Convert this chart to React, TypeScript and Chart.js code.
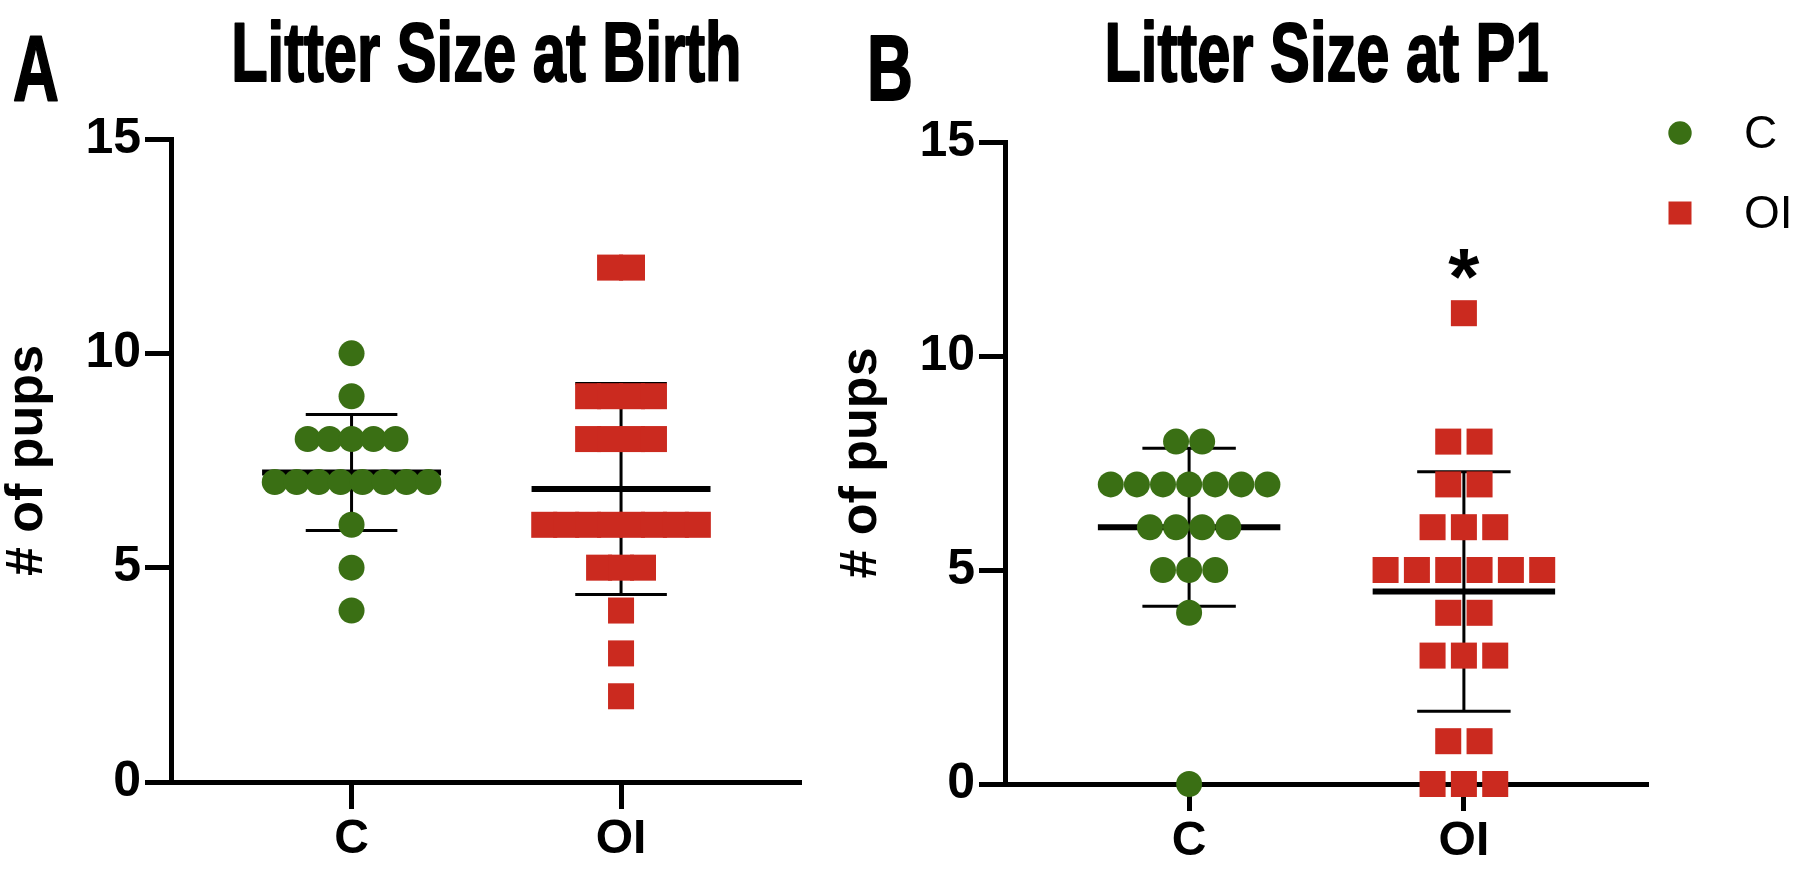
import React, { useEffect, useRef } from 'react';
import { Chart, registerables } from 'chart.js';

Chart.register(...registerables);

// ---------------- data ----------------
const CATEGORIES = ['C', 'OI'];
const BIRTH_C = [10, 9, 8, 8, 8, 8, 8, 7, 7, 7, 7, 7, 7, 7, 7, 6, 5, 4];
const BIRTH_OI = [12, 12, 9, 9, 9, 9, 8, 8, 8, 8, 6, 6, 6, 6, 6, 6, 6, 6, 5, 5, 5, 4, 3, 2];
const P1_C = [8, 8, 7, 7, 7, 7, 7, 7, 7, 6, 6, 6, 6, 5, 5, 5, 4, 0];
const P1_OI = [11, 8, 8, 7, 7, 6, 6, 6, 5, 5, 5, 5, 5, 5, 4, 4, 3, 3, 3, 1, 1, 0, 0, 0];
const Y_TICKS = [0, 5, 10, 15];
const TITLES = ['Litter Size at Birth', 'Litter Size at P1'];
const PANEL_LETTERS = ['A', 'B'];
const Y_LABEL = '# of pups';
const SIGNIF_MARK = '*';
const SIGNIF_CATEGORY = 1;
const SIGNIF_Y = 12.27;

// ---------------- style ----------------
const GREEN = '#3A6F14';
const RED = '#CB2A1F';
const FONT = "'Liberation Sans', Arial, Helvetica, sans-serif";
const ROW_SPAN = 0.57; // centre-to-centre width of widest row (x units)
const MEAN_HALF = 0.332;
const CAP_HALF = 0.17;

function swarm(values: number[], cat: number) {
  const counts = new Map<number, number>();
  values.forEach((v) => counts.set(v, (counts.get(v) || 0) + 1));
  const maxCount = Math.max(...Array.from(counts.values()));
  const step = maxCount > 1 ? ROW_SPAN / (maxCount - 1) : 0;
  const seen = new Map<number, number>();
  return values.map((v) => {
    const n = counts.get(v)!;
    const k = seen.get(v) || 0;
    seen.set(v, k + 1);
    return { x: cat + (k - (n - 1) / 2) * step, y: v };
  });
}

function stats(values: number[]) {
  const n = values.length;
  const mean = values.reduce((a, b) => a + b, 0) / n;
  const sd = Math.sqrt(values.reduce((a, b) => a + (b - mean) * (b - mean), 0) / (n - 1));
  return { mean, sd };
}

type Panel = {
  groups: number[][];
  title: string;
  letter: string;
  letterX: number;
  padding: { top: number; right: number; left: number; bottom: number };
  yWidth: number;
  xHeight: number;
  yTitlePad: number;
  legend: boolean;
  legendX: number;
  signif: boolean;
};

function heavyText(ctx: any, text: string, x: number, y: number, sx: number, stroke: number) {
  ctx.save();
  ctx.translate(x, y);
  ctx.scale(sx, 1);
  ctx.lineJoin = 'round';
  ctx.lineWidth = stroke;
  ctx.strokeStyle = '#000';
  ctx.strokeText(text, 0, 0);
  ctx.fillText(text, 0, 0);
  ctx.restore();
}

function makeConfig(p: Panel): any {
  const tickFontY = { family: FONT, size: 50, weight: 'bold' as const };
  const tickFontX = { family: FONT, size: 48, weight: 'bold' as const };
  const overlay = {
    id: 'overlay',
    beforeDatasetsDraw(chart: any) {
      const { ctx } = chart;
      const x = chart.scales.x;
      const y = chart.scales.y;
      ctx.save();
      ctx.strokeStyle = '#000';
      ctx.lineCap = 'butt';
      p.groups.forEach((vals, cat) => {
        const { mean, sd } = stats(vals);
        const cx = x.getPixelForValue(cat);
        const capL = x.getPixelForValue(cat - CAP_HALF);
        const capR = x.getPixelForValue(cat + CAP_HALF);
        const mL = x.getPixelForValue(cat - MEAN_HALF);
        const mR = x.getPixelForValue(cat + MEAN_HALF);
        const yT = y.getPixelForValue(mean + sd);
        const yB = y.getPixelForValue(mean - sd);
        const yM = y.getPixelForValue(mean);
        ctx.lineWidth = 3;
        ctx.beginPath();
        ctx.moveTo(cx, yT);
        ctx.lineTo(cx, yB);
        ctx.moveTo(capL, yT);
        ctx.lineTo(capR, yT);
        ctx.moveTo(capL, yB);
        ctx.lineTo(capR, yB);
        ctx.stroke();
        ctx.lineWidth = 6;
        ctx.beginPath();
        ctx.moveTo(mL, yM);
        ctx.lineTo(mR, yM);
        ctx.stroke();
      });
      ctx.restore();
    },
    afterDraw(chart: any) {
      const { ctx, chartArea } = chart;
      ctx.save();
      ctx.fillStyle = '#000';
      // title
      ctx.font = `bold 84px ${FONT}`;
      ctx.textAlign = 'center';
      ctx.textBaseline = 'alphabetic';
      heavyText(ctx, p.title, (chartArea.left + chartArea.right) / 2, 81, 0.71, 2);
      // panel letter
      ctx.font = `bold 92px ${FONT}`;
      ctx.textAlign = 'left';
      heavyText(ctx, p.letter, p.letterX, 100, 0.69, 2);
      // significance
      if (p.signif) {
        const x = chart.scales.x;
        const y = chart.scales.y;
        ctx.font = `bold 80px ${FONT}`;
        ctx.textAlign = 'center';
        ctx.fillText(SIGNIF_MARK, x.getPixelForValue(SIGNIF_CATEGORY), y.getPixelForValue(SIGNIF_Y) + 0.57 * 80);
      }
      // legend
      if (p.legend) {
        chart.data.datasets.forEach((ds: any, i: number) => {
          const cy = 133 + i * 80;
          ctx.fillStyle = ds.backgroundColor;
          if (ds.pointStyle === 'circle') {
            ctx.beginPath();
            ctx.arc(p.legendX, cy, 11.7, 0, Math.PI * 2);
            ctx.fill();
          } else {
            ctx.fillRect(p.legendX - 11.5, cy - 11.5, 23, 23);
          }
          ctx.fillStyle = '#000';
          ctx.font = `46px ${FONT}`;
          ctx.textAlign = 'left';
          ctx.textBaseline = 'middle';
          ctx.fillText(ds.label, p.legendX + 64, cy + 2);
        });
      }
      ctx.restore();
    },
  };

  return {
    type: 'scatter',
    data: {
      datasets: [
        {
          label: CATEGORIES[0],
          data: swarm(p.groups[0], 0),
          backgroundColor: GREEN,
          pointBackgroundColor: GREEN,
          pointStyle: 'circle',
          pointRadius: 13,
          pointHoverRadius: 13,
          pointBorderWidth: 0,
          borderWidth: 0,
          showLine: false,
          clip: false,
        },
        {
          label: CATEGORIES[1],
          data: swarm(p.groups[1], 1),
          backgroundColor: RED,
          pointBackgroundColor: RED,
          pointStyle: 'rect',
          pointRadius: 18.4,
          pointHoverRadius: 18.4,
          pointBorderWidth: 0,
          borderWidth: 0,
          showLine: false,
          clip: false,
        },
      ],
    },
    options: {
      responsive: false,
      animation: false,
      events: [],
      layout: { padding: p.padding },
      plugins: {
        legend: { display: false },
        title: { display: false },
        tooltip: { enabled: false },
      },
      scales: {
        x: {
          type: 'linear',
          min: -0.67,
          max: 1.67,
          afterBuildTicks: (s: any) => {
            s.ticks = CATEGORIES.map((_, i) => ({ value: i }));
          },
          afterFit: (s: any) => {
            s.height = p.xHeight;
          },
          ticks: {
            callback: (v: any) => CATEGORIES[Math.round(Number(v))],
            font: tickFontX,
            color: '#000',
            padding: 2,
            autoSkip: false,
            maxRotation: 0,
          },
          grid: {
            display: true,
            drawOnChartArea: false,
            drawTicks: true,
            tickLength: 27,
            tickWidth: 5,
            tickColor: '#000',
          },
          border: { display: true, width: 5, color: '#000' },
        },
        y: {
          type: 'linear',
          min: 0,
          max: 15,
          afterBuildTicks: (s: any) => {
            s.ticks = Y_TICKS.map((v) => ({ value: v }));
          },
          afterFit: (s: any) => {
            s.width = p.yWidth;
          },
          ticks: { font: tickFontY, color: '#000', padding: 4 },
          grid: {
            display: true,
            drawOnChartArea: false,
            drawTicks: true,
            tickLength: 26,
            tickWidth: 5,
            tickColor: '#000',
          },
          border: { display: true, width: 5, color: '#000' },
          title: {
            display: true,
            text: Y_LABEL,
            color: '#000',
            font: { family: FONT, size: 52, weight: 'bold', lineHeight: 1 },
            padding: { top: p.yTitlePad, bottom: 0 },
          },
        },
      },
    },
    plugins: [overlay],
  };
}

const PANEL_A: Panel = {
  groups: [BIRTH_C, BIRTH_OI],
  title: TITLES[0],
  letter: PANEL_LETTERS[0],
  letterX: 13,
  padding: { top: 139, right: 5, left: 0, bottom: 0 },
  yWidth: 171,
  xHeight: 89,
  yTitlePad: 1.5,
  legend: false,
  legendX: 0,
  signif: false,
};

const PANEL_B: Panel = {
  groups: [P1_C, P1_OI],
  title: TITLES[1],
  letter: PANEL_LETTERS[1],
  letterX: 47,
  padding: { top: 142, right: 152, left: 0, bottom: 0 },
  yWidth: 185,
  xHeight: 87,
  yTitlePad: 15.5,
  legend: true,
  legendX: 860,
  signif: true,
};

export default function App() {
  const refA = useRef<HTMLCanvasElement>(null);
  const refB = useRef<HTMLCanvasElement>(null);
  useEffect(() => {
    const a = new Chart(refA.current!, makeConfig(PANEL_A));
    const b = new Chart(refB.current!, makeConfig(PANEL_B));
    return () => {
      a.destroy();
      b.destroy();
    };
  }, []);
  return (
    <div style={{ position: 'fixed', left: 0, top: 0, width: 1800, height: 871, background: '#fff', overflow: 'hidden' }}>
      <canvas ref={refA} width={820} height={871} style={{ position: 'absolute', left: 0, top: 0 }} />
      <canvas ref={refB} width={980} height={871} style={{ position: 'absolute', left: 820, top: 0 }} />
    </div>
  );
}
